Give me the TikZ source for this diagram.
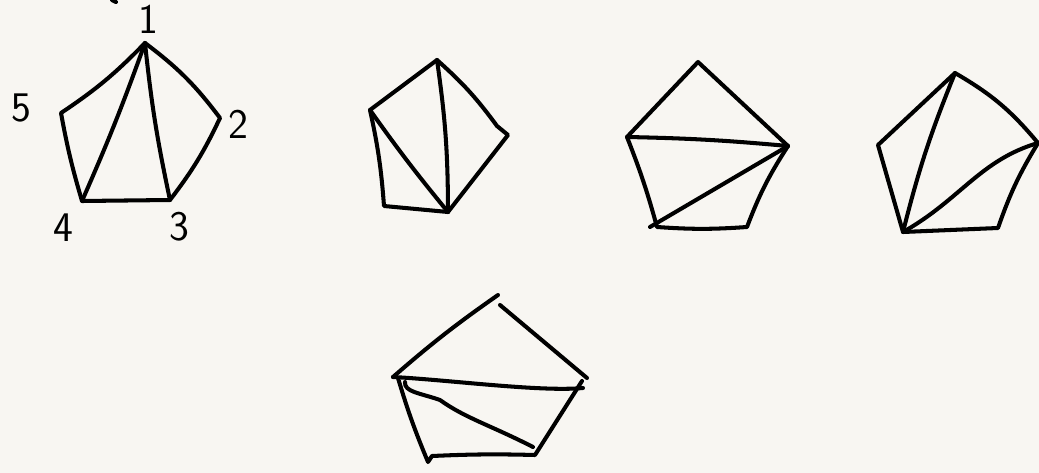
\documentclass[tikz,border=0pt]{standalone}
\usepackage{fontspec}
\setmainfont{DejaVu Sans}
\begin{document}
\begin{tikzpicture}[x=0.02cm,y=-0.02cm,
  pen/.style={line width=2.3pt,line cap=round,line join=round,black},
  lbl/.style={font=\fontsize{24}{28}\selectfont\sffamily,inner sep=0pt}]
\fill[fill={rgb,255:red,248;green,246;blue,242}] (0,0) rectangle (1039,473);
\useasboundingbox (0,0) rectangle (1039,473);
% --- pentagon 1 (labelled)
\coordinate (a1) at (145,43);
\coordinate (a2) at (220,118);
\coordinate (a3) at (170,200);
\coordinate (a4) at (82,201);
\coordinate (a5) at (61,113);
\node[lbl] (l1) at (148,19) {1};
\node[lbl] (l2) at (238,124) {2};
\node[lbl] (l3) at (179,227) {3};
\node[lbl] (l4) at (63,228) {4};
\node[lbl] (l5) at (21,108) {5};
\coordinate (m0) at (112,0);
\coordinate (m1) at (116,2);
\draw[pen] (m0) -- (m1);
\draw[pen] (a1) to[bend left=6] (a5) to[bend right=3] (a4) -- (a3) to[bend right=6] (a2) to[bend right=8] (a1);
\draw[pen] (a1) to[bend left=2] (a4);
\draw[pen] (a1) to[bend right=3] (a3);
% --- pentagon 2
\coordinate (b1) at (437,60);
\coordinate (b2) at (508,135);
\coordinate (b2k) at (497,126);
\coordinate (b3) at (448,212);
\coordinate (b4) at (384,206);
\coordinate (b5) at (370,110);
\draw[pen] (b1) -- (b5) to[bend left=4] (b4) -- (b3) -- (b2) -- (b2k) to[bend right=6] (b1);
\draw[pen] (b3) to[bend right=4] (b1);
\draw[pen] (b3) to[bend left=2] (b5);
% --- pentagon 3
\coordinate (c1) at (698,62);
\coordinate (c2) at (788,146);
\coordinate (c3) at (747,227);
\coordinate (c4) at (657,227);
\coordinate (c4t) at (650,227);
\coordinate (c5) at (627,137);
\draw[pen] (c1) -- (c5) to[bend left=3] (c4) to[bend right=4] (c3) to[bend left=6] (c2) -- (c1);
\draw[pen] (c5) to[bend left=2] (c2);
\draw[pen] (c2) -- (c4t);
% --- pentagon 4
\coordinate (d1) at (955,73);
\coordinate (d2) at (1038,143);
\coordinate (d3) at (998,228);
\coordinate (d4) at (903,232);
\coordinate (d5) at (878,145);
\draw[pen] (d1) -- (d5) -- (d4) -- (d3) to[bend left=6] (d2) to[bend right=10] (d1);
\draw[pen] (d4) to[bend left=4] (d1);
\draw[pen] (d4) .. controls (960,200) and (980,160) .. (d2);
% --- pentagon 5
\coordinate (e1) at (498,295);
\coordinate (e1b) at (500,305);
\coordinate (e2) at (587,378);
\coordinate (e2b) at (582,381);
\coordinate (e3) at (535,455);
\coordinate (e4) at (428,462);
\coordinate (e5) at (393,377);
\coordinate (e5b) at (398,378);
\coordinate (e6) at (583,388);
\coordinate (e7) at (405,382);
\coordinate (e8) at (533,447);
\draw[pen] (e1) to[bend right=3] (e5);
\draw[pen] (e1b) -- (e2);
\draw[pen] (e5b) to[bend right=3] (e4) -- ++(4,-6) to[bend left=2] (e3) -- (e2b);
\draw[pen] (e5) .. controls (450,380) and (540,392) .. (e6);
\draw[pen] (e7) .. controls (404,392) and (420,393) .. (440,400) .. controls (465,418) and (490,425) .. (e8);
\end{tikzpicture}
\end{document}
